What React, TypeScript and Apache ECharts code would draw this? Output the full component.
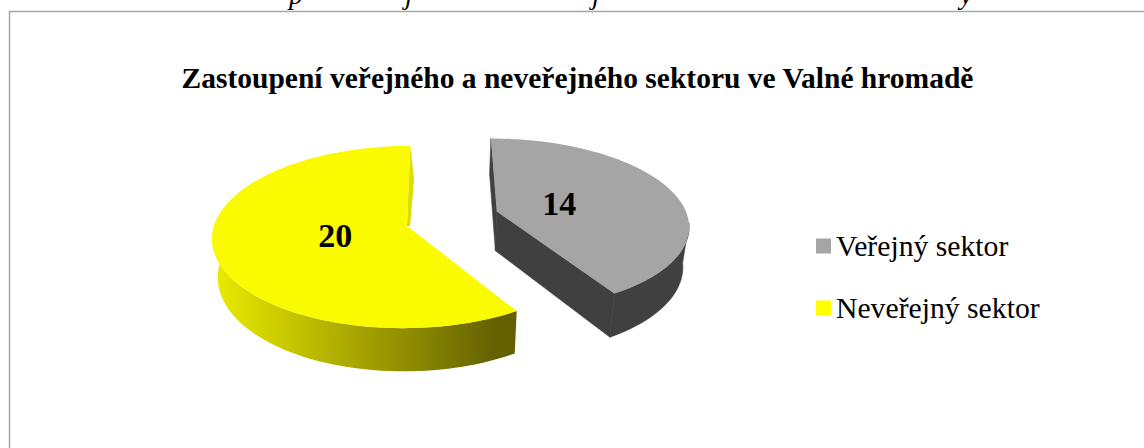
import React, { useEffect, useRef } from "react";
import * as echarts from "echarts";

const categories = ["Veřejný sektor", "Neveřejný sektor"];
const values = [14, 20];
const topColors = ["#a5a5a5", "#fafa00"];
const legendColors = ["#a5a5a5", "#ffff00"];
const title = "Zastoupení veřejného a neveřejného sektoru ve Valné hromadě";
const cutLetters = ["p", "j", "j", "y"];
const cutLetterX = [289, 405, 592, 960];

// perspective model of the pie, in pixels
const VX = 438;
const HORIZON = -516;
const PLANE = 742;
const P = 0.121;
const R = 193;
const CENTRE_U = -28;
const BOTTOM_SHRINK = 0.975;
const EXPLODE = [
  { u: 88, v: -0.165, depth: 40, rimShift: 0.03, rimScale: 0.97, label: 0.35 },
  { u: -3, v: 0, depth: 38, rimShift: 0, rimScale: 1, label: 0.38 },
];

function project(u: number, v: number, low: boolean, depth: number): number[] {
  const s = 1 / (1 - P * v);
  let x = VX + u * s;
  let y = HORIZON + PLANE * s;
  if (low) {
    x = VX + (x - VX) * BOTTOM_SHRINK;
    y += depth * s;
  }
  return [x, y];
}

function rim(i: number, deg: number, low: boolean): number[] {
  const a = (deg * Math.PI) / 180;
  const e = EXPLODE[i];
  return project(
    CENTRE_U + e.u + R * Math.sin(a),
    e.v + e.rimShift - e.rimScale * Math.cos(a),
    low,
    e.depth
  );
}

function apex(i: number, low: boolean): number[] {
  const e = EXPLODE[i];
  return project(CENTRE_U + e.u, e.v, low, e.depth);
}

function arc(i: number, from: number, to: number, low: boolean): number[][] {
  const out: number[][] = [];
  const n = Math.max(2, Math.ceil(Math.abs(to - from) / 2));
  for (let k = 0; k <= n; k++) out.push(rim(i, from + ((to - from) * k) / n, low));
  return out;
}

const total = values.reduce((a, b) => a + b, 0);
const starts = [0, (values[0] / total) * 360];

function renderSlice(i: number) {
  const start = starts[i];
  const end = start + (values[i] / total) * 360;
  const children: any[] = [];
  const poly = (points: number[][], fill: any, stroke?: string) => ({
    type: "polygon",
    shape: { points },
    style: { fill, stroke: stroke || undefined, lineWidth: stroke ? 0.6 : 0 },
    silent: true,
  });
  if (i === 0) {
    const dark = "#404040";
    children.push(poly([rim(0, 0, false), apex(0, false), apex(0, true), rim(0, 0, true)], dark, dark));
    children.push(poly([apex(0, false), rim(0, end, false), rim(0, end, true), apex(0, true)], dark, dark));
    children.push(poly(arc(0, 96, end, false).concat(arc(0, end, 96, true)), dark, dark));
    children.push(poly([apex(0, false), ...arc(0, start, end, false)], topColors[0]));
  } else {
    const from = Math.max(start, 140);
    const wall = arc(1, from, 275, false).concat(arc(1, 275, from, true));
    children.push(
      poly(
        wall,
        new echarts.graphic.LinearGradient(1, 0, 0, 0, [
          { offset: 0, color: "#646000" },
          { offset: 0.08, color: "#666200" },
          { offset: 1, color: "#ecec00" },
        ])
      )
    );
    const t = rim(1, 360, false);
    const l = rim(1, 360, true);
    const a = apex(1, false);
    children.push(poly([t, [l[0] + 3, l[1]], [a[0] + 3, a[1]], a], "#dcdc00"));
    children.push(poly([apex(1, false), ...arc(1, start, end, false)], topColors[1]));
  }
  const midA = ((start + end) / 2) * (Math.PI / 180);
  const e = EXPLODE[i];
  const labelPos = project(
    CENTRE_U + e.u + R * e.label * Math.sin(midA),
    e.v - e.label * Math.cos(midA),
    false,
    0
  );
  children.push({
    type: "text",
    style: {
      x: labelPos[0],
      y: labelPos[1],
      text: String(values[i]),
      fill: "#000",
      font: 'bold 34px "Liberation Serif"',
      align: "center",
      verticalAlign: "middle",
    },
  });
  return { type: "group", children };
}

export default function App() {
  const ref = useRef<HTMLDivElement>(null);
  useEffect(() => {
    const chart = echarts.init(ref.current!, undefined, { renderer: "svg" });
    chart.setOption({
      animation: false,
      backgroundColor: "#ffffff",
      title: {
        text: title,
        left: 572.5,
        top: 58,
        textAlign: "center",
        textStyle: { fontFamily: "Liberation Serif", fontWeight: "bold", fontSize: 29.5, color: "#000" },
      },
      legend: {
        orient: "vertical",
        left: 811,
        top: 226,
        itemWidth: 15,
        itemHeight: 15,
        itemGap: 32,
        data: categories,
        icon: "rect",
        textStyle: { fontFamily: "Liberation Serif", fontSize: 29.7, color: "#000" },
      },
      graphic: [
        {
          type: "rect",
          shape: { x: 9.5, y: 11.5, width: 1200, height: 500 },
          style: { fill: "none", stroke: "#a6a6a6", lineWidth: 1.5 },
          z: -1,
        },
        ...cutLetters.map((t, i) => ({
          type: "text",
          x: cutLetterX[i],
          y: -20,
          style: { text: t, fill: "#000", font: 'italic 28px "Liberation Serif"' },
        })),
      ],
      series: categories.map((name, i) => ({
        type: "custom",
        name,
        coordinateSystem: "none",
        itemStyle: { color: legendColors[i] },
        data: [values[i]],
        renderItem: () => renderSlice(i),
      })),
    });
    return () => chart.dispose();
  }, []);
  return <div ref={ref} style={{ position: "absolute", left: 0, top: 0, width: 1144, height: 448 }} />;
}
